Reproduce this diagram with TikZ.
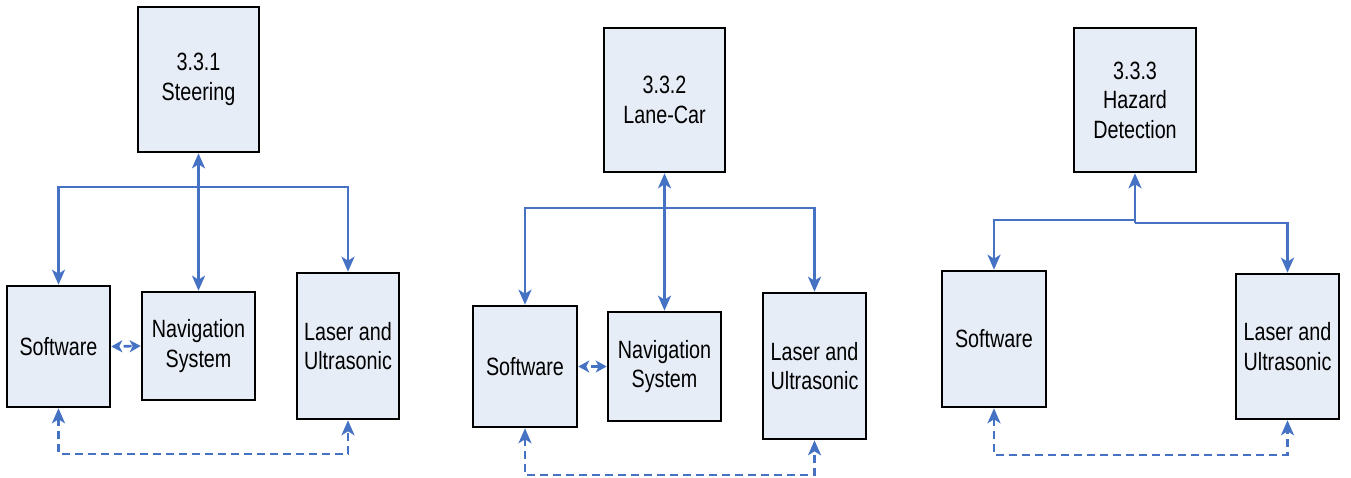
\documentclass[tikz,border=0pt]{standalone}
\usepackage{fontspec}
\setmainfont{Liberation Sans}[FakeStretch=0.79]
\usetikzlibrary{arrows.meta}
\definecolor{linkblue}{RGB}{70,114,196}
\definecolor{boxfill}{RGB}{231,237,247}
\tikzset{
  blk/.style={draw=black, line width=2.6pt, fill=boxfill, inner sep=0pt,
    align=center, font=\fontsize{25}{29.5}\selectfont},
  link/.style={draw=linkblue, line width=2.6pt,
    >={Stealth[length=15pt,width=13pt,inset=4pt]}},
  hint/.style={link, dash pattern=on 8pt off 5pt},
  shorthint/.style={hint, dash phase=8pt,
    >={Stealth[length=11pt,width=12pt,inset=3pt]}},
}
\newcommand{\blkat}[6]{% name, x1, y1, x2, y2, text
  \node[blk, minimum width={#4-#2}, minimum height={#5-#3}]
    (#1) at ({(#2+#4)/2},{(#3+#5)/2}) {#6};}
\begin{document}
\begin{tikzpicture}[x=1pt,y=-1pt]
\useasboundingbox (0,0) rectangle (1351,478);

% ---- 3.3.1 Steering ----
\blkat{t1}{138}{7}{259}{152}{3.3.1\\Steering}
\blkat{s1}{7}{286}{110}{407}{Software}
\blkat{n1}{142}{292}{255}{400}{Navigation\\System}
\blkat{l1}{297}{273}{399}{419}{Laser and\\Ultrasonic}
\coordinate (b1) at (198.5,187);
\coordinate (d1) at (0,454);
\draw[link,<->] (t1.south) -- (n1.north);
\draw[link,->] (b1) -| (s1.north);
\draw[link,->] (b1) -| (l1.north);
\draw[shorthint,<->] (s1.east) -- (n1.west);
\draw[hint,<->] (s1.south) -- (s1.south |- d1) -| (l1.south);

% ---- 3.3.2 Lane-Car ----
\blkat{t2}{604}{28}{725}{172}{3.3.2\\Lane-Car}
\blkat{s2}{473}{306}{577}{427}{Software}
\blkat{n2}{608}{312}{721}{421}{Navigation\\System}
\blkat{l2}{763}{293}{866}{439}{Laser and\\Ultrasonic}
\coordinate (b2) at (664.5,208);
\coordinate (d2) at (0,475);
\draw[link,<->] (t2.south) -- (n2.north);
\draw[link,->] (b2) -| (s2.north);
\draw[link,->] (b2) -| (l2.north);
\draw[shorthint,<->] (s2.east) -- (n2.west);
\draw[hint,<->] (s2.south) -- (s2.south |- d2) -| (l2.south);

% ---- 3.3.3 Hazard Detection ----
\blkat{t3}{1074}{28}{1196}{172}{3.3.3\\Hazard\\Detection}
\blkat{s3}{942}{271}{1046}{407}{Software}
\blkat{l3}{1236}{274}{1339}{419}{Laser and\\Ultrasonic}
\coordinate (jl) at (1135,220);
\coordinate (jr) at (1135,223);
\coordinate (d3) at (0,455);
\draw[link,->] (jr) -- (t3.south);
\draw[link,->] (jl) -| (s3.north);
\draw[link,->] (jr) -| (l3.north);
\draw[hint,<->] (s3.south) -- (s3.south |- d3) -| (l3.south);
\end{tikzpicture}
\end{document}
